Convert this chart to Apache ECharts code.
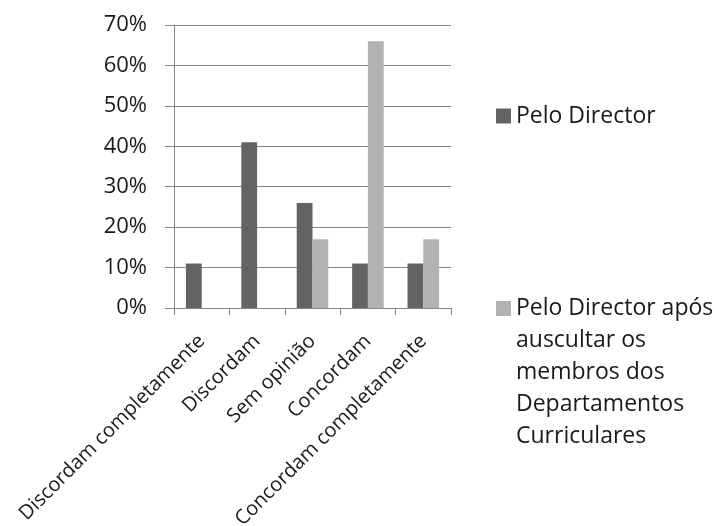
<!DOCTYPE html>
<html>
<head>
<meta charset="utf-8">
<script src="https://cdn.jsdelivr.net/npm/echarts@6/dist/echarts.min.js"></script>
<style>
  html, body { margin: 0; padding: 0; background: #ffffff; }
  #chart { width: 714px; height: 526px; }
</style>
</head>
<body>
<div id="chart"></div>
<script>
// Response categories (x axis)
const categories = [
  'Discordam completamente',
  'Discordam',
  'Sem opinião',
  'Concordam',
  'Concordam completamente'
];

// Series names
const seriesNames = [
  'Pelo Director',
  'Pelo Director após\nauscultar os\nmembros dos\nDepartamentos\nCurriculares'
];

// Percentages per category
const peloDirector = [11, 41, 26, 11, 11];
const aposAuscultar = [0, 0, 17, 66, 17];

// Value axis settings (percent)
const yMin = 0;
const yMax = 70;
const yInterval = 10;

const FONT = '"Open Sans", "DejaVu Sans", sans-serif';
const GRID_COLOR = '#868686';
const TEXT_COLOR = '#1a1a1a';
const DARK = '#636363';
const LIGHT = '#b2b2b2';

// Legend line height; the multi-line entry keeps its square beside the first line
const LEGEND_LINE = 32;
const LEGEND2_HEIGHT = LEGEND_LINE * 5;
// Tall icon box: the visible square sits at the first text line, tiny corner marks
// stretch the path's bounds to the full height of the text block.
const tallSquareIcon =
  'path://M0,0h0.01v0.01h-0.01z' +
  'M0,8.5h15v15h-15z' +
  'M0,' + (LEGEND2_HEIGHT - 0.01) + 'h0.01v0.01h-0.01z';

const chart = echarts.init(document.getElementById('chart'), null, { renderer: 'canvas' });

chart.setOption({
  backgroundColor: '#ffffff',
  animation: false,
  grid: {
    left: 174, right: 263, top: 25, bottom: 218,
    containLabel: false,
    outerBoundsMode: 'none'
  },
  legend: [
    {
      orient: 'vertical',
      left: 491,
      top: 95,
      icon: 'rect',
      itemWidth: 15,
      itemHeight: 15,
      selectedMode: false,
      data: [seriesNames[0]],
      textStyle: { fontFamily: FONT, fontSize: 23, color: TEXT_COLOR, lineHeight: LEGEND_LINE }
    },
    {
      orient: 'vertical',
      left: 491,
      top: 287.5,
      icon: tallSquareIcon,
      itemWidth: 15,
      itemHeight: LEGEND2_HEIGHT,
      selectedMode: false,
      data: [seriesNames[1]],
      textStyle: { fontFamily: FONT, fontSize: 23, color: TEXT_COLOR, lineHeight: LEGEND_LINE }
    }
  ],
  xAxis: {
    type: 'category',
    data: categories,
    boundaryGap: true,
    axisLine: { show: true, lineStyle: { color: GRID_COLOR, width: 1 } },
    axisTick: { show: true, length: 7, lineStyle: { color: GRID_COLOR } },
    axisLabel: {
      rotate: 45,
      interval: 0,
      margin: 30,
      fontFamily: FONT,
      fontSize: 20,
      color: TEXT_COLOR
    }
  },
  yAxis: {
    type: 'value',
    min: yMin,
    max: yMax,
    interval: yInterval,
    axisLine: { show: true, lineStyle: { color: GRID_COLOR, width: 1 } },
    axisTick: { show: true, length: 9, lineStyle: { color: GRID_COLOR } },
    splitLine: { show: true, lineStyle: { color: GRID_COLOR, width: 1 } },
    axisLabel: {
      margin: 27,
      formatter: '{value}%',
      fontFamily: FONT,
      fontSize: 22,
      color: TEXT_COLOR
    }
  },
  series: [
    {
      name: seriesNames[0],
      type: 'bar',
      data: peloDirector,
      itemStyle: { color: DARK },
      barGap: '0%',
      barCategoryGap: '43%'
    },
    {
      name: seriesNames[1],
      type: 'bar',
      data: aposAuscultar,
      itemStyle: { color: LIGHT },
      barGap: '0%',
      barCategoryGap: '43%'
    }
  ]
});
</script>
</body>
</html>
